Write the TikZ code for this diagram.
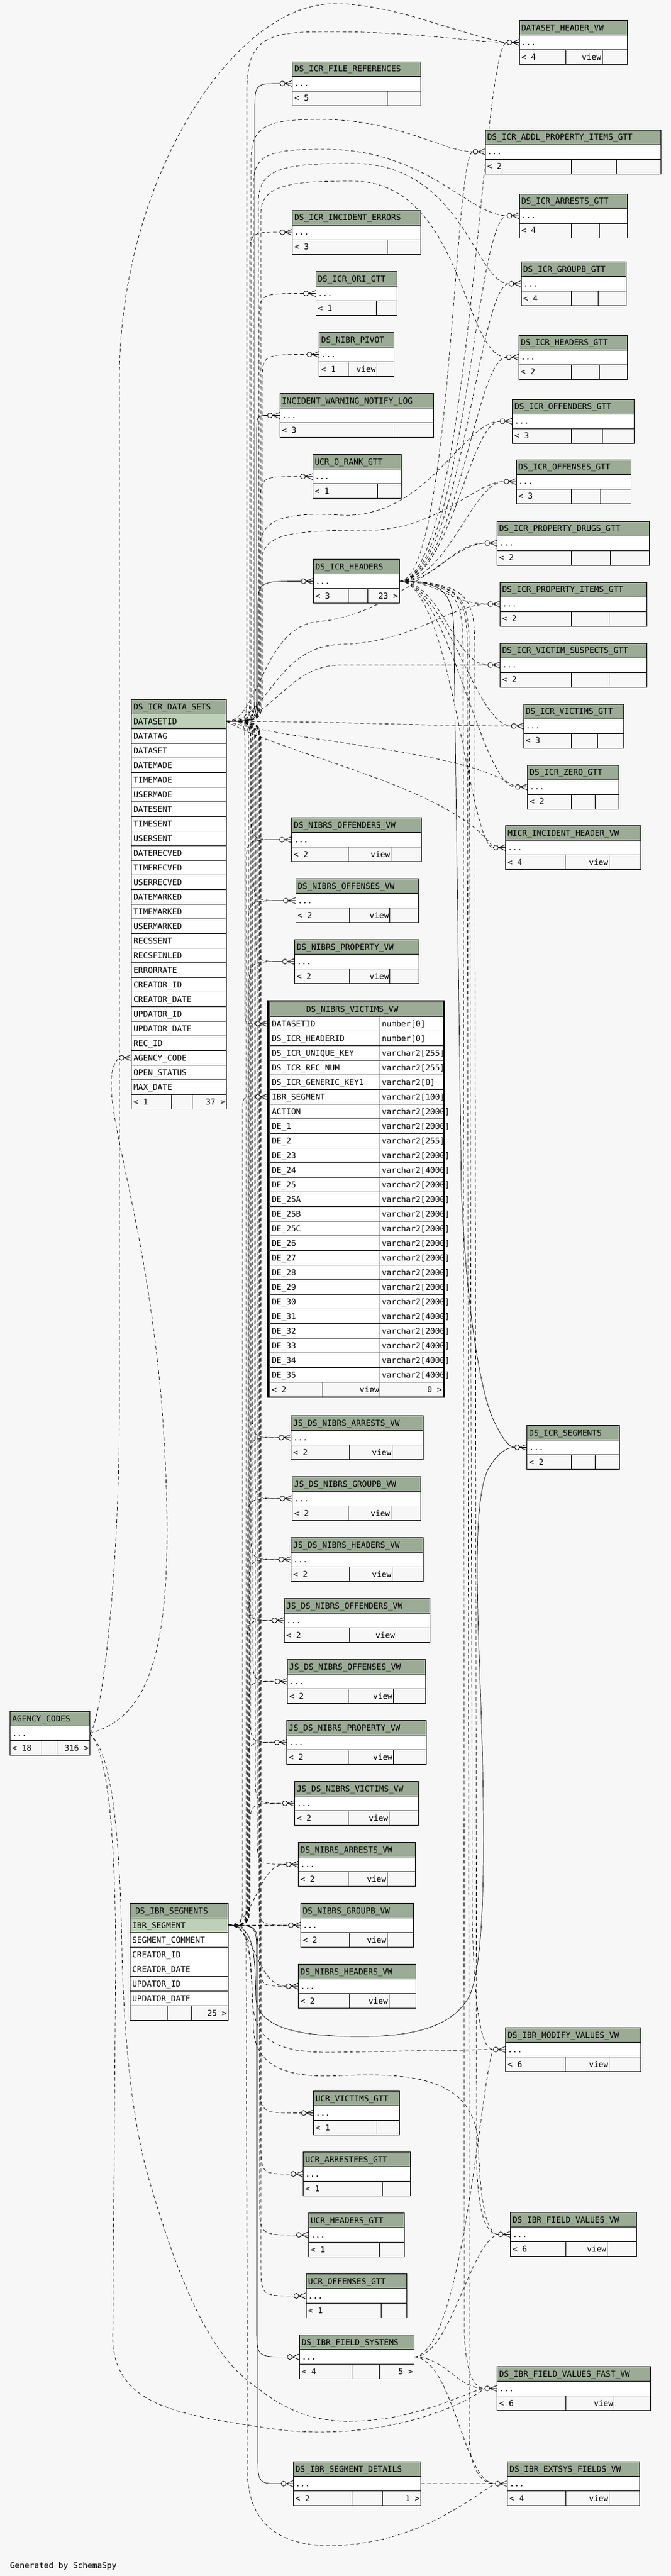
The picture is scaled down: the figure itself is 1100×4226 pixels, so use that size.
\documentclass[tikz,border=0pt]{standalone}
\usepackage{fontspec}
\newfontfamily\monof{DejaVu Sans Mono}
\usetikzlibrary{calc}
\pgfdeclarelayer{bglayer}
\pgfdeclarelayer{edgelayer}
\pgfsetlayers{bglayer,edgelayer,main}
\definecolor{hdrc}{HTML}{9BAB96}
\definecolor{keyc}{HTML}{BED1B8}
\definecolor{bgc}{HTML}{F7F7F7}
\tikzset{
  bx/.style={draw=black,line width=0.8pt},
  tx/.style={anchor=base west,inner sep=0pt,outer sep=0pt,font=\monof\fontsize{13.2pt}{16pt}\selectfont},
  ds/.style={draw=black,line width=0.7pt,dash pattern=on 6pt off 4pt},
  sl/.style={draw=black,line width=0.7pt}
}
% crow's foot with circle at the left edge of a row
\newcommand\mk[2]{\draw[bx,fill=bgc] (#1-16,#2) circle[radius=4pt];
  \draw[bx] (#1-12,#2) -- (#1,#2-5) (#1-12,#2) -- (#1,#2) (#1-12,#2) -- (#1,#2+5);}
% small table: name, x1, y, x2, title, col1, col2, parents, middle text
\newcommand\tbx[9]{%
  \fill[hdrc] (#2,#3) rectangle (#4,#3+24);
  \fill[white] (#2,#3+24) rectangle (#4,#3+48);
  \fill[bgc] (#2,#3+48) rectangle (#4,#3+72);
  \draw[bx] (#2,#3) rectangle (#4,#3+72) (#2,#3+24) -- (#4,#3+24) (#2,#3+48) -- (#4,#3+48)
     (#6,#3+48) -- (#6,#3+72) (#7,#3+48) -- (#7,#3+72);
  \node[tx] (#1) at (#2+3.5,#3+16.8) {#5};
  \node[tx] (#1-d) at (#2+3.5,#3+40.8) {...};
  \node[tx] (#1-f) at (#2+3.5,#3+64.8) {< #8};
  \node[tx,anchor=base east] (#1-v) at (#7-1.5,#3+64.8) {#9};
}
\newcommand\tb[9]{\tbx{#1}{#2}{#3}{#4}{#5}{#6}{#7}{#8}{#9}\mk{#2}{#3+36}\coordinate (#1-in) at (#2-20,#3+36);}
% channel edge
\newcommand\ch[8]{\draw[#1] (#2) .. controls (#4,#5) and (#4,#5) .. (#4,#6) -- (#4,#7) .. controls (#4,#8) and (#4,#8) .. (#3);}

\begin{document}
\begin{tikzpicture}[x=1pt,y=-1pt]
\begin{pgfonlayer}{bglayer}
\fill[bgc] (0,0) rectangle (1100,4226);
\end{pgfonlayer}
\useasboundingbox (0,0) rectangle (1100,4226);

% ---------------- small tables ----------------
\tb{dhv}{852}{33.5}{1029.5}{DATASET\_HEADER\_VW}{928}{988}{4}{view}
\tb{fref}{479.5}{101}{690}{DS\_ICR\_FILE\_REFERENCES}{582.6}{635}{5}{}
\tb{addl}{796}{213}{1084}{DS\_ICR\_ADDL\_PROPERTY\_ITEMS\_GTT}{937.5}{1011.6}{2}{}
\tb{arr}{852}{318}{1029.5}{DS\_ICR\_ARRESTS\_GTT}{937.5}{983.5}{4}{}
\tb{ierr}{479.5}{345}{690}{DS\_ICR\_INCIDENT\_ERRORS}{582.6}{635}{3}{}
\tb{grpb}{855}{429.5}{1027}{DS\_ICR\_GROUPB\_GTT}{937.5}{981}{4}{}
\tb{ori}{518}{445.5}{651}{DS\_ICR\_ORI\_GTT}{582.6}{617}{1}{}
\tb{pivot}{523.7}{545.5}{646}{DS\_NIBR\_PIVOT}{571}{618}{1}{view}
\tb{hgtt}{851}{550}{1029.5}{DS\_ICR\_HEADERS\_GTT}{937.5}{983.5}{2}{}
\tb{iwnl}{459}{645.5}{711}{INCIDENT\_WARNING\_NOTIFY\_LOG}{582.6}{646}{3}{}
\tb{offd}{840.6}{655}{1040}{DS\_ICR\_OFFENDERS\_GTT}{937}{988}{3}{}
\tb{orank}{513}{745.7}{658}{UCR\_O\_RANK\_GTT}{582.6}{619.6}{1}{}
\tb{offs}{847}{754}{1035}{DS\_ICR\_OFFENSES\_GTT}{937}{985}{3}{}
\tb{drug}{815.6}{855}{1065}{DS\_ICR\_PROPERTY\_DRUGS\_GTT}{937}{1001}{2}{}
\tb{hdrs}{514}{917.5}{655}{DS\_ICR\_HEADERS}{571}{603.6}{3}{}
\node[tx,anchor=base east] (hdrs-r) at (653,982.3) {23 >};
\tb{pitm}{820.5}{955}{1061}{DS\_ICR\_PROPERTY\_ITEMS\_GTT}{937}{999.6}{2}{}
\tb{vsus}{820.5}{1055}{1061}{DS\_ICR\_VICTIM\_SUSPECTS\_GTT}{937}{999.6}{2}{}
\tb{vict}{859}{1155}{1023}{DS\_ICR\_VICTIMS\_GTT}{937}{980}{3}{}
\tb{zero}{865.6}{1255}{1015}{DS\_ICR\_ZERO\_GTT}{937}{976}{2}{}
\tb{micr}{829.5}{1354.5}{1051.3}{MICR\_INCIDENT\_HEADER\_VW}{927}{999.6}{4}{view}
\tb{noffd}{478.6}{1341.5}{691.5}{DS\_NIBRS\_OFFENDERS\_VW}{571.4}{641.5}{2}{view}
\tb{noffs}{485}{1441.5}{686}{DS\_NIBRS\_OFFENSES\_VW}{573.7}{639.7}{2}{view}
\tb{nprop}{483.5}{1541.5}{687}{DS\_NIBRS\_PROPERTY\_VW}{573.7}{639.7}{2}{view}
\tb{jarr}{477.6}{2322.3}{694.6}{JS\_DS\_NIBRS\_ARRESTS\_VW}{573.6}{643.7}{2}{view}
\tb{jgrp}{479.4}{2422.3}{690.5}{JS\_DS\_NIBRS\_GROUPB\_VW}{571.3}{641.4}{2}{view}
\tb{jhdr}{477.6}{2522.3}{694.6}{JS\_DS\_NIBRS\_HEADERS\_VW}{573.6}{643.7}{2}{view}
\tb{joffd}{466.4}{2622.3}{705.3}{JS\_DS\_NIBRS\_OFFENDERS\_VW}{573.6}{649.5}{2}{view}
\tb{joffs}{471.3}{2722.3}{698.6}{JS\_DS\_NIBRS\_OFFENSES\_VW}{571.3}{645.4}{2}{view}
\tb{jprop}{470.4}{2822.3}{699.5}{JS\_DS\_NIBRS\_PROPERTY\_VW}{571.3}{645.4}{2}{view}
\tb{jvic}{483.5}{2922.3}{686}{JS\_DS\_NIBRS\_VICTIMS\_VW}{571.4}{638.4}{2}{view}
\tb{iseg}{864.6}{2338.4}{1016.4}{DS\_ICR\_SEGMENTS}{937.4}{976}{2}{}
\tb{narr}{489.3}{3022.3}{681.3}{DS\_NIBRS\_ARRESTS\_VW}{571.4}{635.3}{2}{view}
\tb{ngrp}{493.3}{3122.3}{678.6}{DS\_NIBRS\_GROUPB\_VW}{573.7}{635.3}{2}{view}
\tb{nhdr}{489.3}{3222.3}{682.6}{DS\_NIBRS\_HEADERS\_VW}{573.7}{638}{2}{view}
\tb{modv}{829.5}{3326.3}{1051.3}{DS\_IBR\_MODIFY\_VALUES\_VW}{927}{999.6}{6}{view}
\tb{uvic}{514.3}{3430.4}{655.4}{UCR\_VICTIMS\_GTT}{582.6}{618.75}{1}{}
\tb{uarr}{497.3}{3530.4}{673.7}{UCR\_ARRESTEES\_GTT}{582.6}{627.7}{1}{}
\tb{uhdr}{506.25}{3630.4}{663.4}{UCR\_HEADERS\_GTT}{582.6}{622.3}{1}{}
\tb{uoff}{502.2}{3730.4}{667.4}{UCR\_OFFENSES\_GTT}{582.6}{625.4}{1}{}
\tb{fval}{837.5}{3629.5}{1044.6}{DS\_IBR\_FIELD\_VALUES\_VW}{928.6}{996.4}{6}{view}
\tb{fsys}{491.5}{3830.5}{679.5}{DS\_IBR\_FIELD\_SYSTEMS}{577.2}{622.3}{4}{}
\node[tx,anchor=base east] (fsys-r) at (677.5,3895.3) {5 >};
\tb{fast}{815.6}{3882.25}{1067.4}{DS\_IBR\_FIELD\_VALUES\_FAST\_VW}{928.6}{1007.6}{6}{view}
\tb{sdet}{481.25}{4038.5}{690.6}{DS\_IBR\_SEGMENT\_DETAILS}{577.2}{627.7}{2}{}
\node[tx,anchor=base east] (sdet-r) at (688.6,4103.3) {1 >};
\tb{exts}{832.6}{4038.5}{1049.6}{DS\_IBR\_EXTSYS\_FIELDS\_VW}{928.6}{999.6}{4}{view}
\tbx{agcy}{16.5}{2807.6}{147.3}{AGENCY\_CODES}{68.3}{93.3}{18}{}
\node[tx,anchor=base east] (agcy-r) at (145.5,2872.4) {316 >};

% ---------------- DS_ICR_DATA_SETS ----------------
\fill[hdrc] (215.5,1147.3) rectangle (371.5,1171.3);
\fill[keyc] (215.5,1171.3) rectangle (371.5,1195.3);
\fill[white] (215.5,1195.3) rectangle (371.5,1795.3);
\fill[bgc] (215.5,1795.3) rectangle (371.5,1819.3);
\foreach \nm [count=\i] in {DATASETID,DATATAG,DATASET,DATEMADE,TIMEMADE,USERMADE,DATESENT,TIMESENT,USERSENT,DATERECVED,TIMERECVED,USERRECVED,DATEMARKED,TIMEMARKED,USERMARKED,RECSSENT,RECSFINLED,ERRORRATE,CREATOR\_ID,CREATOR\_DATE,UPDATOR\_ID,UPDATOR\_DATE,REC\_ID,AGENCY\_CODE,OPEN\_STATUS,MAX\_DATE}{
  \draw[bx] (215.5,{1147.3+24*\i}) -- (371.5,{1147.3+24*\i});
  \node[tx] (dsr\i) at (219,{1147.3+24*\i+16.8}) {\nm};
}
\draw[bx] (215.5,1147.3) rectangle (371.5,1819.3) (215.5,1795.3) -- (371.5,1795.3)
  (281.7,1795.3) -- (281.7,1819.3) (315.6,1795.3) -- (315.6,1819.3);
\node[tx] (dst) at (219,1164.1) {DS\_ICR\_DATA\_SETS};
\node[tx] (dsf) at (219,1812.1) {< 1};
\node[tx,anchor=base east] (dsf2) at (369.5,1812.1) {37 >};
\mk{215.5}{1735.3}
\coordinate (dsaac-in) at (195.5,1735.3);

% ---------------- DS_NIBRS_VICTIMS_VW ----------------
\fill[hdrc] (442,1643) rectangle (727,1667.3);
\fill[white] (442,1667.3) rectangle (727,2267.3);
\fill[bgc] (442,2267.3) rectangle (727,2291.3);
\foreach \nm/\ty [count=\i] in {DATASETID/number[0],DS\_ICR\_HEADERID/number[0],DS\_ICR\_UNIQUE\_KEY/varchar2[255],DS\_ICR\_REC\_NUM/varchar2[255],DS\_ICR\_GENERIC\_KEY1/varchar2[0],IBR\_SEGMENT/varchar2[100],ACTION/varchar2[2000],DE\_1/varchar2[2000],DE\_2/varchar2[255],DE\_23/varchar2[2000],DE\_24/varchar2[4000],DE\_25/varchar2[2000],DE\_25A/varchar2[2000],DE\_25B/varchar2[2000],DE\_25C/varchar2[2000],DE\_26/varchar2[2000],DE\_27/varchar2[2000],DE\_28/varchar2[2000],DE\_29/varchar2[2000],DE\_30/varchar2[2000],DE\_31/varchar2[4000],DE\_32/varchar2[2000],DE\_33/varchar2[4000],DE\_34/varchar2[4000],DE\_35/varchar2[4000]}{
  \draw[bx] (442,{1643.3+24*\i}) -- (727,{1643.3+24*\i});
  \node[tx] (vr\i) at (446,{1643.3+24*\i+16.8}) {\nm};
  \node[tx] (vt\i) at (626.5,{1643.3+24*\i+16.8}) {\ty};
}
\draw[bx] (442,2267.3) -- (727,2267.3) (623.3,1667.3) -- (623.3,2291.3) (529.3,2267.3) -- (529.3,2291.3)
  (442,1643) -- (442,2291.3) (727,1643) -- (727,2291.3);
\draw[draw=black,line width=2.4pt] (439.5,1641.8) rectangle (728.3,2292);
\node[tx,anchor=base] (vtitle) at (578,1660) {DS\_NIBRS\_VICTIMS\_VW};
\node[tx] (vf1) at (446,2284.1) {< 2};
\node[tx,anchor=base east] (vf2) at (622,2284.1) {view};
\node[tx,anchor=base east] (vf3) at (725,2284.1) {0 >};
\mk{439}{1679.3}
\mk{439}{1799.3}
\coordinate (vic-in1) at (419,1679.3);
\coordinate (vic-in2) at (419,1799.3);

% ---------------- DS_IBR_SEGMENTS ----------------
\fill[hdrc] (213.4,3122.3) rectangle (374.1,3146.3);
\fill[keyc] (213.4,3146.3) rectangle (374.1,3170.3);
\fill[white] (213.4,3170.3) rectangle (374.1,3290.3);
\fill[bgc] (213.4,3290.3) rectangle (374.1,3314.3);
\foreach \nm [count=\i] in {IBR\_SEGMENT,SEGMENT\_COMMENT,CREATOR\_ID,CREATOR\_DATE,UPDATOR\_ID,UPDATOR\_DATE}{
  \draw[bx] (213.4,{3122.3+24*\i}) -- (374.1,{3122.3+24*\i});
  \node[tx] (isr\i) at (217,{3122.3+24*\i+16.8}) {\nm};
}
\draw[bx] (213.4,3122.3) rectangle (374.1,3314.3) (213.4,3290.3) -- (374.1,3290.3)
  (274.6,3290.3) -- (274.6,3314.3) (314.7,3290.3) -- (314.7,3314.3);
\node[tx] (ist) at (222,3139.1) {DS\_IBR\_SEGMENTS};
\node[tx,anchor=base east] (isf) at (372,3307.1) {25 >};

\node[tx] (gen) at (16.5,4213) {Generated by SchemaSpy};

% ---------------- parent anchors ----------------
\coordinate (dsa) at (371.5,1183.3);
\coordinate (hdr) at (655,953.5);
\coordinate (ibr) at (374.1,3158.3);
\coordinate (agc) at (147.3,2843.6);
\coordinate (fs) at (679.5,3866.5);
\coordinate (sd) at (690.6,4074.5);

% ---------------- connectors ----------------
\begin{pgfonlayer}{edgelayer}
% DS_ICR_DATA_SETS upward to left column
\ch{sl}{dsa}{fref-in}{418}{1183.3}{1133}{187}{137}
\ch{ds}{dsa}{ierr-in}{410}{1183.3}{1133}{431}{381}
\ch{ds}{dsa}{ori-in}{425}{1183.3}{1133}{531}{481.5}
\ch{ds}{dsa}{pivot-in}{430}{1183.3}{1133}{631}{581.5}
\ch{sl}{dsa}{iwnl-in}{421}{1183.3}{1133}{715}{681.5}
\ch{ds}{dsa}{orank-in}{427}{1183.3}{1133}{831}{781.7}
\ch{sl}{dsa}{hdrs-in}{423}{1183.3}{1140}{1003}{953.5}
% DS_ICR_DATA_SETS arcs to the right
\draw[ds] (dsa) .. controls (405,1183.3) and (405,1183.3) .. (405,1133) -- (405,150) .. controls (405,60) and (440,52) .. (540,52) .. controls (680,52) and (780,69.5) .. (dhv-in);
\draw[ds] (dsa) .. controls (412,1183.3) and (412,1183.3) .. (412,1133) -- (412,260) .. controls (412,200) and (450,196) .. (530,196) .. controls (650,196) and (730,249) .. (addl-in);
\draw[ds] (dsa) .. controls (416,1183.3) and (416,1183.3) .. (416,1133) -- (416,300) .. controls (416,250) and (450,245) .. (534,245) .. controls (700,245) and (770,354) .. (arr-in);
\draw[ds] (dsa) .. controls (424,1183.3) and (424,1183.3) .. (424,1133) -- (424,330) .. controls (424,275) and (470,268) .. (578,268) .. controls (760,268) and (780,465.5) .. (grpb-in);
\draw[ds] (dsa) .. controls (428,1183.3) and (428,1183.3) .. (428,1133) -- (428,350) .. controls (428,302) and (480,297) .. (578,297) .. controls (760,297) and (760,586) .. (hgtt-in);
\draw[ds] (dsa) .. controls (426,1183.3) and (426,1183.3) .. (426,1133) -- (426,900) .. controls (426,850) and (470,840) .. (560,845) .. controls (700,852) and (760,691) .. (offd-in);
\draw[ds] (dsa) .. controls (430,1183.3) and (430,1183.3) .. (430,1133) -- (430,920) .. controls (430,875) and (480,870) .. (600,870) .. controls (720,870) and (780,790) .. (offs-in);
\draw[ds] (dsa) .. controls (425,1183.3) and (430,1030) .. (520,1020) .. controls (650,1010) and (740,891) .. (drug-in);
\draw[ds] (dsa) .. controls (440,1183.3) and (450,1060) .. (560,1057) .. controls (680,1054) and (740,991) .. (pitm-in);
\draw[ds] (dsa) .. controls (450,1183.3) and (470,1091) .. (560,1091) -- (vsus-in);
\draw[ds] (dsa) .. controls (550,1183.3) and (700,1191) .. (vict-in);
\draw[ds] (dsa) .. controls (500,1220) and (760,1230) .. (zero-in);
\draw[ds] (dsa) .. controls (470,1240) and (740,1290) .. (micr-in);
% DS_ICR_DATA_SETS downward
\ch{ds}{dsa}{noffd-in}{412}{1183.3}{1233}{1330}{1377.5}
\ch{ds}{dsa}{noffs-in}{416}{1183.3}{1233}{1430}{1477.5}
\ch{ds}{dsa}{nprop-in}{420}{1183.3}{1233}{1530}{1577.5}
\ch{ds}{dsa}{vic-in1}{402}{1183.3}{1233}{1660}{1679.3}
\ch{ds}{dsa}{jarr-in}{414}{1183.3}{1233}{2310}{2358.3}
\ch{ds}{dsa}{jgrp-in}{418}{1183.3}{1233}{2410}{2458.3}
\ch{ds}{dsa}{jhdr-in}{412}{1183.3}{1233}{2510}{2558.3}
\ch{ds}{dsa}{joffd-in}{408}{1183.3}{1233}{2610}{2658.3}
\ch{ds}{dsa}{joffs-in}{415}{1183.3}{1233}{2710}{2758.3}
\ch{ds}{dsa}{jprop-in}{411}{1183.3}{1233}{2810}{2858.3}
\ch{ds}{dsa}{jvic-in}{419}{1183.3}{1233}{2910}{2958.3}
\ch{ds}{dsa}{narr-in}{422}{1183.3}{1233}{3010}{3058.3}
\ch{ds}{dsa}{ngrp-in}{425}{1183.3}{1233}{3110}{3158.3}
\ch{ds}{dsa}{nhdr-in}{427}{1183.3}{1233}{3210}{3258.3}
\ch{ds}{dsa}{uvic-in}{426}{1183.3}{1233}{3410}{3466.4}
\ch{ds}{dsa}{uarr-in}{428}{1183.3}{1233}{3510}{3566.4}
\ch{ds}{dsa}{uhdr-in}{426}{1183.3}{1233}{3610}{3666.4}
\ch{ds}{dsa}{uoff-in}{428}{1183.3}{1233}{3710}{3766.4}
% DS_ICR_HEADERS to the right
\draw[ds] (hdr) .. controls (770,953.5) and (790,69.5) .. (dhv-in);
\draw[ds] (hdr) .. controls (740,953.5) and (745,249) .. (addl-in);
\draw[ds] (hdr) .. controls (760,953.5) and (780,354) .. (arr-in);
\draw[ds] (hdr) .. controls (755,953.5) and (785,465.5) .. (grpb-in);
\draw[ds] (hdr) .. controls (750,953.5) and (780,586) .. (hgtt-in);
\draw[ds] (hdr) .. controls (740,953.5) and (770,691) .. (offd-in);
\draw[ds] (hdr) .. controls (735,953.5) and (775,790) .. (offs-in);
\draw[ds] (hdr) .. controls (720,953.5) and (740,891) .. (drug-in);
\draw[ds] (hdr) .. controls (720,953.5) and (740,991) .. (pitm-in);
\draw[ds] (hdr) .. controls (725,953.5) and (745,1091) .. (vsus-in);
\draw[ds] (hdr) .. controls (730,953.5) and (780,1191) .. (vict-in);
\draw[ds] (hdr) .. controls (735,953.5) and (790,1291) .. (zero-in);
\draw[ds] (hdr) .. controls (740,953.5) and (770,1390.5) .. (micr-in);
% DS_ICR_HEADERS downward
\draw[sl] (hdr) .. controls (740,953.5) and (745,980) .. (745,1060) -- (757,1950) .. controls (765,2150) and (790,2300) .. (815,2340) .. controls (825,2360) and (835,2374.4) .. (iseg-in);
\draw[ds] (hdr) .. controls (765,953.5) and (768,990) .. (770,1060) -- (775,3150) .. controls (778,3300) and (790,3362.3) .. (modv-in);
\draw[ds] (hdr) .. controls (775,953.5) and (778,990) .. (779,1060) -- (782,3550) .. controls (785,3640) and (800,3665.5) .. (fval-in);
\draw[ds] (hdr) .. controls (755,953.5) and (758,990) .. (760,1060) -- (762,3830) .. controls (765,3900) and (780,3918.25) .. (fast-in);
\draw[ds] (hdr) .. controls (762,953.5) and (765,990) .. (767,1060) -- (770,4000) .. controls (772,4060) and (795,4074.5) .. (exts-in);
% DS_IBR_SEGMENTS upward
\ch{ds}{ibr}{noffd-in}{404}{3158.3}{3108}{1425}{1377.5}
\ch{ds}{ibr}{noffs-in}{407}{3158.3}{3108}{1525}{1477.5}
\ch{ds}{ibr}{nprop-in}{409}{3158.3}{3108}{1625}{1577.5}
\ch{ds}{ibr}{vic-in2}{398}{3158.3}{3108}{1825}{1799.3}
\ch{ds}{ibr}{jarr-in}{410}{3158.3}{3108}{2406}{2358.3}
\ch{ds}{ibr}{jgrp-in}{406}{3158.3}{3108}{2506}{2458.3}
\ch{ds}{ibr}{jhdr-in}{409}{3158.3}{3108}{2606}{2558.3}
\ch{ds}{ibr}{joffd-in}{405}{3158.3}{3108}{2706}{2658.3}
\ch{ds}{ibr}{joffs-in}{408}{3158.3}{3108}{2806}{2758.3}
\ch{ds}{ibr}{jprop-in}{406}{3158.3}{3108}{2906}{2858.3}
\ch{ds}{ibr}{jvic-in}{410}{3158.3}{3108}{3006}{2958.3}
\draw[ds] (ibr) .. controls (420,3158.3) and (420,3058.3) .. (narr-in);
\draw[ds] (ibr) -- (ngrp-in);
\draw[ds] (ibr) .. controls (420,3158.3) and (420,3258.3) .. (nhdr-in);
% DS_IBR_SEGMENTS downward
\ch{sl}{ibr}{fsys-in}{421}{3158.3}{3208}{3816}{3866.5}
\ch{sl}{ibr}{sdet-in}{423}{3158.3}{3208}{4024}{4074.5}
\draw[ds] (ibr) .. controls (410,3158.3) and (410,3200) .. (415,3290) .. controls (420,3350) and (460,3367) .. (540,3367) -- (modv-in);
\draw[ds] (ibr) .. controls (412,3158.3) and (412,3200) .. (416,3330) .. controls (420,3390) and (470,3410) .. (560,3405) .. controls (700,3398) and (780,3420) .. (785,3520) .. controls (788,3620) and (800,3665.5) .. (fval-in);
\draw[sl] (ibr) .. controls (418,3158.3) and (418,3200) .. (420,3280) .. controls (425,3330) and (500,3341) .. (592,3341) .. controls (690,3341) and (745,3320) .. (770,3275) .. controls (795,3220) and (795,3050) .. (792,2900) .. controls (788,2700) and (770,2480) .. (800,2412) .. controls (815,2385) and (830,2374.4) .. (iseg-in);
\draw[ds] (ibr) .. controls (404,3158.3) and (404,3158.3) .. (404,3208) -- (406,4060) .. controls (410,4150) and (470,4176) .. (540,4176) .. controls (680,4176) and (770,4100) .. (exts-in);
% AGENCY_CODES
\draw[ds] (agc) .. controls (250,2815) and (295,2700) .. (265,2300) .. controls (235,1950) and (150,1780) .. (dsaac-in);
\draw[ds] (agc) .. controls (165,2830) and (196,2600) .. (196,2300) -- (196,620) .. controls (196,300) and (380,6) .. (549,6) .. controls (650,6) and (760,60) .. (dhv-in);
\draw[ds] (agc) .. controls (170,2870) and (188,2950) .. (190,3200) -- (185,3840) .. controls (190,3950) and (300,3962) .. (450,3985) .. controls (600,4005) and (740,3960) .. (fast-in);
\draw[ds] (agc) .. controls (175,2870) and (196,2950) .. (200,3200) .. controls (205,3400) and (225,3500) .. (240,3560) .. controls (280,3700) and (330,3840) .. (400,3900) .. controls (460,3950) and (500,3968) .. (560,3972) .. controls (680,3975) and (760,3925) .. (fast-in);
% DS_IBR_FIELD_SYSTEMS and DS_IBR_SEGMENT_DETAILS
\draw[ds] (fs) .. controls (740,3866.5) and (770,3680) .. (fval-in);
\draw[ds] (fs) .. controls (730,3866.5) and (750,3918.25) .. (fast-in);
\draw[ds] (fs) .. controls (745,3870) and (760,4074.5) .. (exts-in);
\draw[ds] (fs) .. controls (760,3860) and (790,3400) .. (modv-in);
\draw[ds] (sd) -- (exts-in);
\end{pgfonlayer}
\end{tikzpicture}
\end{document}
